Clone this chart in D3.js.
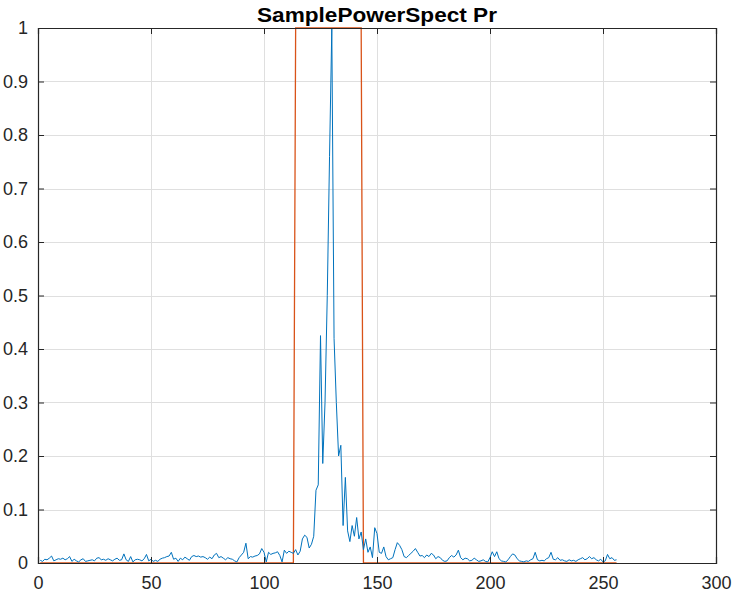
<!DOCTYPE html>
<html>
<head>
<meta charset="utf-8">
<script src="https://cdn.jsdelivr.net/npm/d3@7"></script>
<style>
  body { margin: 0; background: #fff; }
  svg { display: block; }
  text { font-family: "Liberation Sans", Arial, sans-serif; }
</style>
</head>
<body>
<svg id="chart" width="736" height="595"></svg>
<script>
const title = "SamplePowerSpect Pr";
const xTicks = [0, 50, 100, 150, 200, 250, 300];
const yTicks = [0, 0.1, 0.2, 0.3, 0.4, 0.5, 0.6, 0.7, 0.8, 0.9, 1];

// Blue series: sample power spectrum, indices 1..256
const spectrum = [
  0.005, 0.003, 0.007, 0.006, 0.009, 0.013, 0.004, 0.006, 0.008, 0.007,
  0.009, 0.006, 0.008, 0.012, 0.003, 0.007, 0.004, 0.002, 0.006, 0.008,
  0.003, 0.004, 0.005, 0.006, 0.004, 0.009, 0.010, 0.006, 0.007, 0.005,
  0.008, 0.006, 0.004, 0.007, 0.009, 0.005, 0.006, 0.017, 0.006, 0.003,
  0.012, 0.002, 0.006, 0.007, 0.006, 0.004, 0.008, 0.016, 0.004, 0.007,
  0.003, 0.005, 0.003, 0.007, 0.009, 0.010, 0.012, 0.013, 0.020, 0.007,
  0.009, 0.003, 0.009, 0.006, 0.011, 0.008, 0.005, 0.012, 0.014, 0.012,
  0.013, 0.011, 0.012, 0.010, 0.007, 0.011, 0.008, 0.015, 0.018, 0.010,
  0.012, 0.009, 0.006, 0.010, 0.008, 0.007, 0.004, 0.002, 0.010, 0.015,
  0.020, 0.037, 0.008, 0.012, 0.011, 0.013, 0.014, 0.017, 0.027, 0.020,
  0.002, 0.020, 0.016, 0.018, 0.019, 0.021, 0.014, 0.002, 0.024, 0.018,
  0.022, 0.020, 0.018, 0.025, 0.015, 0.022, 0.045, 0.052, 0.048, 0.028,
  0.035, 0.050, 0.136, 0.146, 0.425, 0.186, 0.300, 0.500, 0.760, 1.000,
  0.420, 0.300, 0.200, 0.220, 0.070, 0.160, 0.060, 0.040, 0.070, 0.050,
  0.085, 0.045, 0.058, 0.025, 0.045, 0.020, 0.030, 0.010, 0.066, 0.055,
  0.020, 0.018, 0.030, 0.012, 0.006, 0.008, 0.010, 0.025, 0.038, 0.033,
  0.025, 0.012, 0.010, 0.014, 0.018, 0.022, 0.027, 0.020, 0.013, 0.014,
  0.010, 0.015, 0.012, 0.018, 0.015, 0.008, 0.012, 0.010, 0.005, 0.003,
  0.004, 0.010, 0.014, 0.011, 0.015, 0.024, 0.010, 0.006, 0.009, 0.008,
  0.004, 0.005, 0.009, 0.006, 0.003, 0.004, 0.006, 0.003, 0.002, 0.010,
  0.021, 0.012, 0.021, 0.008, 0.004, 0.003, 0.002, 0.006, 0.012, 0.017,
  0.015, 0.008, 0.004, 0.003, 0.002, 0.004, 0.003, 0.006, 0.008, 0.020,
  0.006, 0.004, 0.005, 0.004, 0.008, 0.010, 0.020, 0.007, 0.006, 0.010,
  0.005, 0.006, 0.004, 0.003, 0.006, 0.004, 0.005, 0.003, 0.006, 0.008,
  0.010, 0.006, 0.008, 0.012, 0.008, 0.010, 0.006, 0.004, 0.007, 0.002,
  0.004, 0.016, 0.008, 0.010, 0.005, 0.006
];
// Red series: passband mask (1 from index 114 to 143, else 0)
const maskStart = 114;
const maskEnd = 143;
const mask = spectrum.map((_, i) => (i + 1 >= maskStart && i + 1 <= maskEnd) ? 1 : 0);

const margin = { left: 38, right: 20, top: 28, bottom: 32 };
const W = 736, H = 595;
const svg = d3.select("#chart");
const x = d3.scaleLinear().domain([0, 300]).range([margin.left, W - margin.right]);
const y = d3.scaleLinear().domain([0, 1]).range([H - margin.bottom, margin.top]);

const x0 = x(0), x1 = x(300), y0 = y(0), y1 = y(1);

// grid
const grid = svg.append("g").attr("stroke", "#dfdfdf").attr("stroke-width", 1);
xTicks.forEach(t => {
  grid.append("line").attr("x1", Math.round(x(t)) + 0.5).attr("x2", Math.round(x(t)) + 0.5)
    .attr("y1", y1).attr("y2", y0);
});
yTicks.forEach(t => {
  grid.append("line").attr("y1", Math.round(y(t)) + 0.5).attr("y2", Math.round(y(t)) + 0.5)
    .attr("x1", x0).attr("x2", x1);
});

// lines
const line = d3.line().x((d, i) => x(i + 1)).y(d => y(d));
svg.append("path").datum(mask).attr("fill", "none").attr("stroke", "#D95319")
  .attr("stroke-width", 1.3).attr("d", line);
svg.append("path").datum(spectrum).attr("fill", "none").attr("stroke", "#0072BD")
  .attr("stroke-width", 1.0).attr("stroke-linejoin", "round").attr("d", line);

// axes (ticks inward, box)
const tickLen = 6;
const fmtY = d => d3.format("~g")(d);
const axB = d3.axisBottom(x).tickValues(xTicks).tickSize(-tickLen).tickPadding(13).tickFormat(d3.format("d"));
const axT = d3.axisTop(x).tickValues(xTicks).tickSize(-tickLen).tickFormat("");
const axL = d3.axisLeft(y).tickValues(yTicks).tickSize(-tickLen).tickPadding(10).tickFormat(fmtY);
const axR = d3.axisRight(y).tickValues(yTicks).tickSize(-tickLen).tickFormat("");

function style(g) {
  g.selectAll("path.domain").attr("stroke", "#262626").attr("stroke-width", 1.2);
  g.selectAll(".tick line").attr("stroke", "#262626").attr("stroke-width", 1);
  g.selectAll("text").attr("fill", "#262626").style("font-size", "18px")
    .style("font-family", '"Liberation Sans", Arial, sans-serif');
}
svg.append("g").attr("transform", `translate(0,${y0})`).call(axB).call(style);
svg.append("g").attr("transform", `translate(0,${y1})`).call(axT).call(style);
svg.append("g").attr("transform", `translate(${x0},0)`).call(axL).call(style);
svg.append("g").attr("transform", `translate(${x1},0)`).call(axR).call(style);

svg.append("text").attr("x", (x0 + x1) / 2).attr("y", 22).attr("text-anchor", "middle")
  .style("font-size", "21px").style("font-weight", "bold").attr("fill", "#000")
  .attr("textLength", 240).attr("lengthAdjust", "spacingAndGlyphs")
  .text(title);
</script>
</body>
</html>
